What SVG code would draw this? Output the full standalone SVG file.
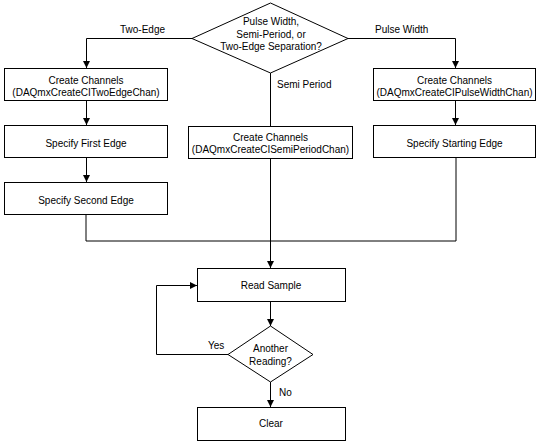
<svg xmlns="http://www.w3.org/2000/svg" width="541" height="444" viewBox="0 0 541 444">
<style>
.box{fill:#fff;stroke:#000;stroke-width:1}
.t{font-family:"Liberation Sans",Arial,sans-serif;font-size:10px;fill:#000;text-anchor:middle}
.l{font-family:"Liberation Sans",Arial,sans-serif;font-size:10px;fill:#000}
.c{fill:none;stroke:#000;stroke-width:1}
</style>
<defs>
<marker id="ah" markerWidth="7" markerHeight="9" refX="7" refY="4.5" orient="auto" markerUnits="userSpaceOnUse">
<path d="M0,1 L7,4.5 L0,8 Z" fill="#000"/>
</marker>
</defs>
<rect width="541" height="444" fill="#fff"/>
<g id="connectors">
<path class="c" d="M192,38.5 H86.5 V68" marker-end="url(#ah)"/>
<path class="c" d="M348,38.5 H455.5 V68" marker-end="url(#ah)"/>
<path class="c" d="M270.5,73 V126"/>
<path class="c" d="M86.5,100 V125" marker-end="url(#ah)"/>
<path class="c" d="M86.5,157 V182" marker-end="url(#ah)"/>
<path class="c" d="M455.5,100 V125" marker-end="url(#ah)"/>
<path class="c" d="M86,214 V241 H456 V157"/>
<path class="c" d="M270.5,158 V268" marker-end="url(#ah)"/>
<path class="c" d="M270.5,301 V326" marker-end="url(#ah)"/>
<path class="c" d="M228,354.5 H156.5 V285.5 H197" marker-end="url(#ah)"/>
<path class="c" d="M270.5,382 V407" marker-end="url(#ah)"/>
<text class="l" x="120" y="33">Two-Edge</text>
<text class="l" x="375" y="33">Pulse Width</text>
<text class="l" x="277" y="88">Semi Period</text>
<text class="l" x="208" y="348.5">Yes</text>
<text class="l" x="279" y="395.5">No</text>
</g>
<g id="decision1">
<polygon class="box" points="192,38.5 270.5,3 348,38.5 270.5,73"/>
<text class="t" x="271" y="25">Pulse Width,</text>
<text class="t" x="271" y="37.5">Semi-Period, or</text>
<text class="t" x="271" y="50">Two-Edge Separation?</text>
</g>
<g id="create-twoedge">
<rect class="box" x="4.5" y="68.5" width="163" height="32"/>
<text class="t" x="86" y="84">Create Channels</text>
<text class="t" x="86" y="95.5">(DAQmxCreateCITwoEdgeChan)</text>
</g>
<g id="first-edge">
<rect class="box" x="4.5" y="125.5" width="163" height="32"/>
<text class="t" x="86" y="146.5">Specify First Edge</text>
</g>
<g id="second-edge">
<rect class="box" x="4.5" y="182.5" width="163" height="32"/>
<text class="t" x="86" y="203.5">Specify Second Edge</text>
</g>
<g id="create-semiperiod">
<rect class="box" x="188.5" y="126.5" width="164" height="32"/>
<text class="t" x="270.5" y="140.5">Create Channels</text>
<text class="t" x="270.5" y="152.5">(DAQmxCreateCISemiPeriodChan)</text>
</g>
<g id="create-pulsewidth">
<rect class="box" x="373.5" y="68.5" width="162" height="32"/>
<text class="t" x="454.5" y="84">Create Channels</text>
<text class="t" x="454.5" y="95.5">(DAQmxCreateCIPulseWidthChan)</text>
</g>
<g id="starting-edge">
<rect class="box" x="373.5" y="125.5" width="162" height="32"/>
<text class="t" x="454.5" y="146.5">Specify Starting Edge</text>
</g>
<g id="read-sample">
<rect class="box" x="197.5" y="268.5" width="148" height="33"/>
<text class="t" x="271" y="288.5">Read Sample</text>
</g>
<g id="decision2">
<polygon class="box" points="228,354.5 270.5,326 313,354.5 270.5,382"/>
<text class="t" x="270.5" y="351.5">Another</text>
<text class="t" x="270.5" y="364.5">Reading?</text>
</g>
<g id="clear">
<rect class="box" x="197.5" y="407.5" width="148" height="33"/>
<text class="t" x="271" y="426.5">Clear</text>
</g>
</svg>
